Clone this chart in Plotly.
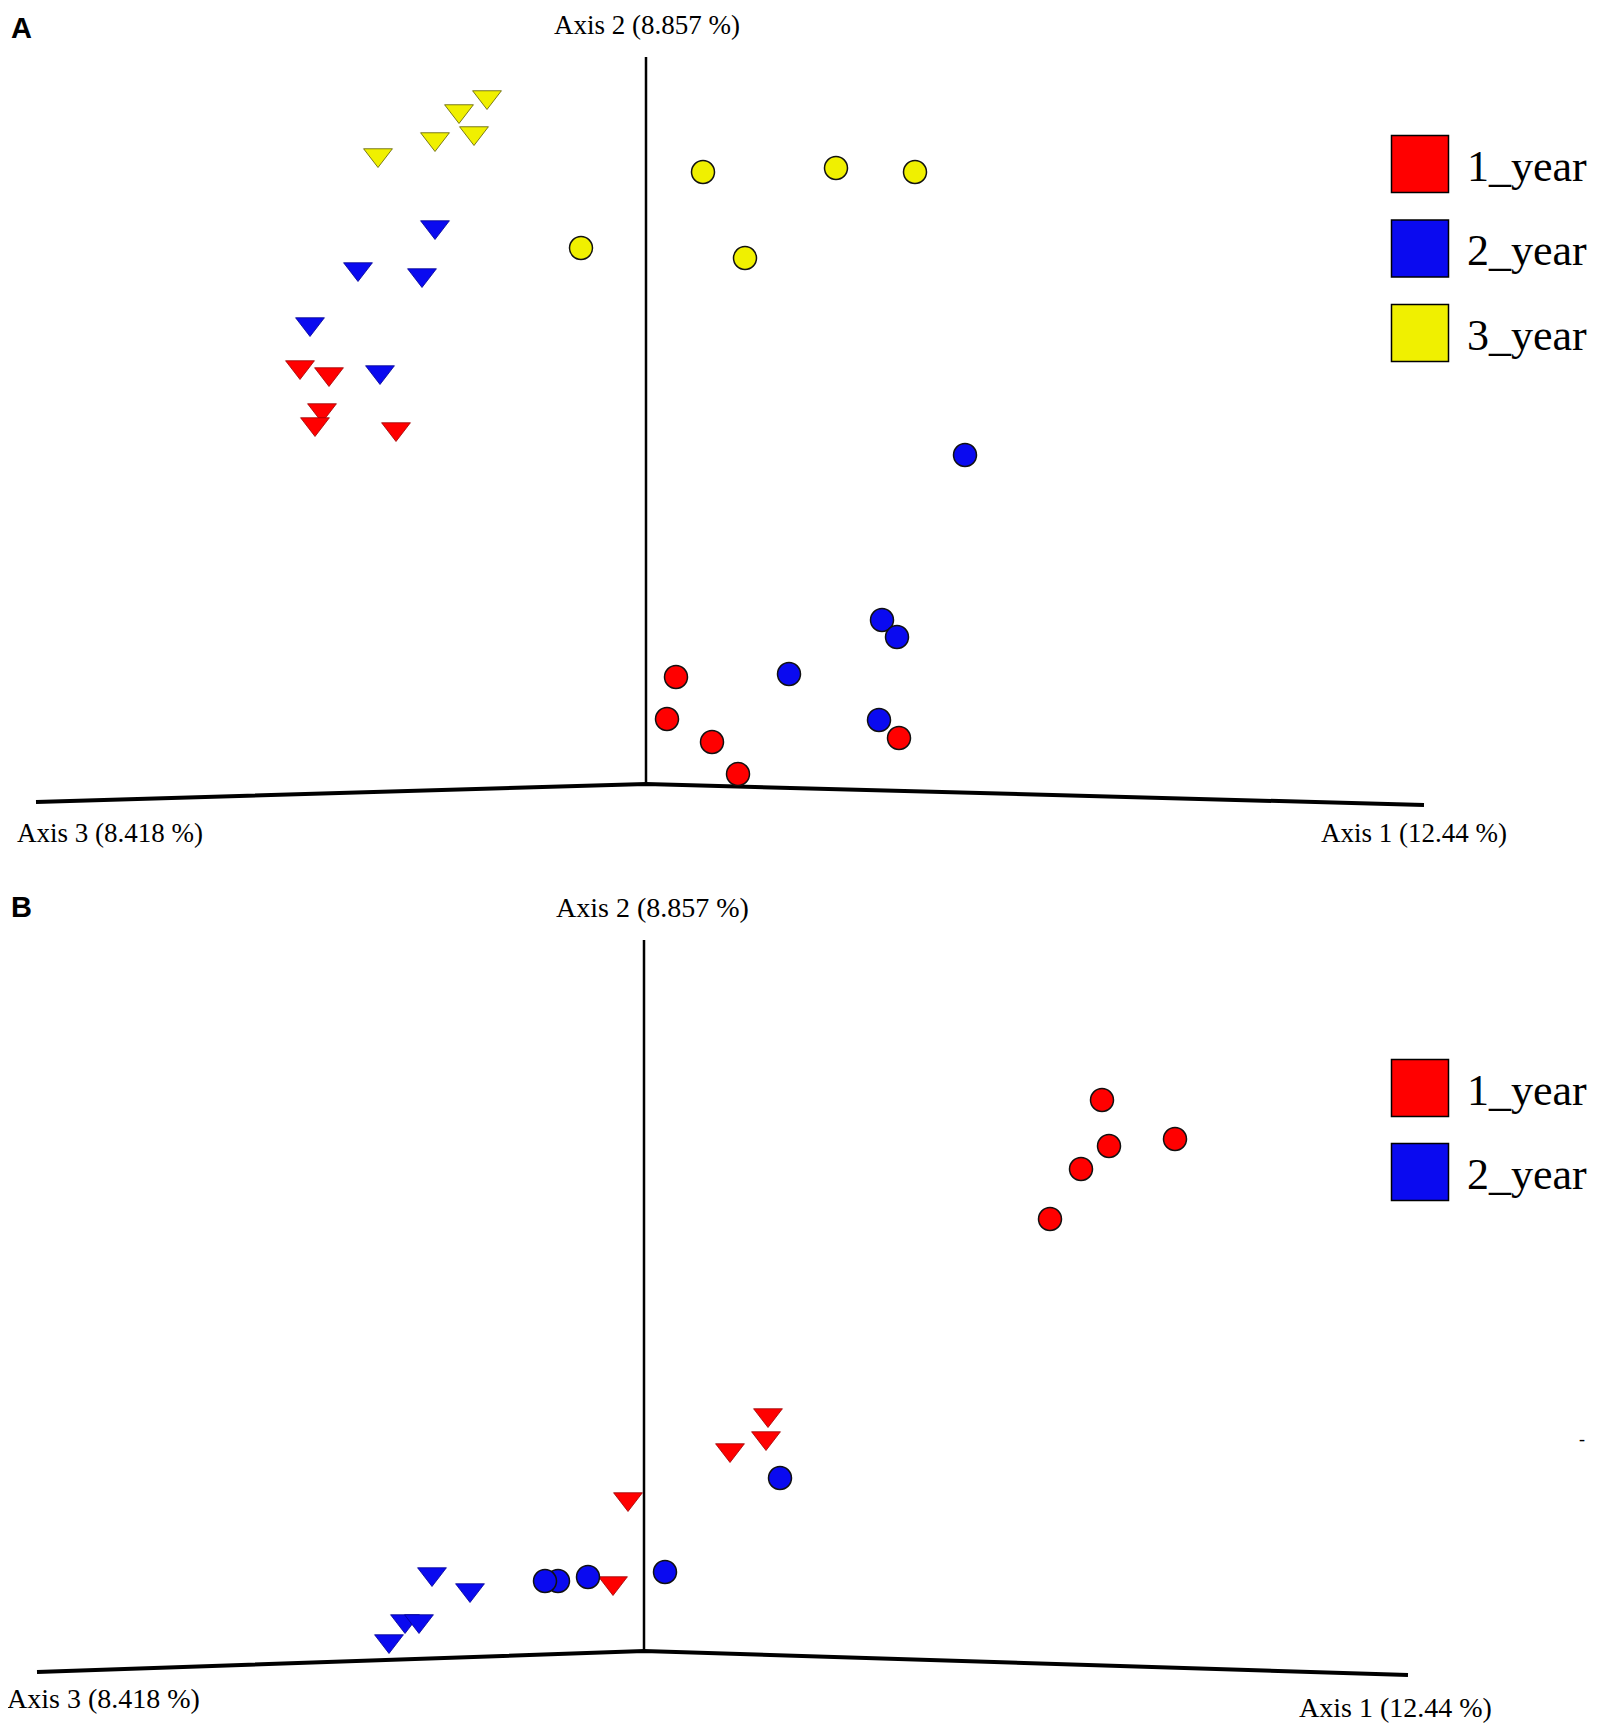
import plotly.graph_objects as go
from plotly.subplots import make_subplots

# projected PCoA positions (px units, y grows downward)
groups = ["1_year", "2_year", "3_year"]
colors = {"1_year": "#ff0000", "2_year": "#0a0af0", "3_year": "#f0f000"}
edge = {"1_year": "#9a0000", "2_year": "#000090", "3_year": "#5a5a00"}

# panel A
a_circ_x = {"1_year": [676, 667, 712, 738, 899],
            "2_year": [965, 882, 897, 789, 879],
            "3_year": [581, 703, 745, 836, 915]}
a_circ_y = {"1_year": [677, 719, 742, 774, 738],
            "2_year": [455, 620, 637, 674, 720],
            "3_year": [248, 172, 258, 168, 172]}
a_tri_x = {"1_year": [300, 329, 322, 315, 396],
           "2_year": [435, 358, 422, 310, 380],
           "3_year": [378, 435, 459, 487, 474]}
a_tri_y = {"1_year": [367, 374, 410, 424, 429],
           "2_year": [227, 269, 275, 324, 372],
           "3_year": [155, 139, 111, 97, 133]}

# panel B
b_circ_x = {"1_year": [1102, 1175, 1109, 1081, 1050],
            "2_year": [780, 665, 588, 558, 545]}
b_circ_y = {"1_year": [238, 277, 284, 307, 357],
            "2_year": [616, 710, 715, 719, 719]}
b_tri_x = {"1_year": [768, 766, 730, 628, 613],
           "2_year": [432, 470, 405, 419, 389]}
b_tri_y = {"1_year": [553, 576, 588, 637, 721],
           "2_year": [712, 728, 759, 759, 779]}

axis_names = ["Axis 1 (12.44 %)", "Axis 2 (8.857 %)", "Axis 3 (8.418 %)"]
# origin and axis end points: [origin, axis1 end, axis2 end, axis3 end]
a_frame_x = [646, 1424, 646, 36]
a_frame_y = [784, 805, 57, 802]
b_frame_x = [644, 1408, 644, 37]
b_frame_y = [789, 813, 78, 810]

# the page body has an 8px margin, so the figure is 8px smaller and the ranges start at 8
fig = make_subplots(rows=2, cols=1, vertical_spacing=0)

SERIF = "Liberation Serif"


def add_panel(row, cx, cy, tx, ty, fx, fy, grps):
    # frame: vertical axis thinner than the two floor axes
    fig.add_trace(go.Scatter(x=[fx[0], fx[2]], y=[fy[0], fy[2]], mode="lines",
                             line=dict(color="black", width=2.5), hoverinfo="skip"), row=row, col=1)
    fig.add_trace(go.Scatter(x=[fx[3], fx[0], fx[1]], y=[fy[3], fy[0], fy[1]], mode="lines",
                             line=dict(color="black", width=4), hoverinfo="skip"), row=row, col=1)
    for g in grps:
        fig.add_trace(go.Scatter(x=tx[g], y=ty[g], mode="markers", name=g,
                                 marker=dict(symbol="triangle-down", size=25, color=colors[g],
                                             line=dict(color=edge[g], width=0.8))), row=row, col=1)
        fig.add_trace(go.Scatter(x=cx[g], y=cy[g], mode="markers", name=g,
                                 marker=dict(symbol="circle", size=23, color=colors[g],
                                             line=dict(color="#111111", width=1.5))), row=row, col=1)
    # legend boxes
    ly = [164 + 84.5 * i for i in range(len(grps))] if row == 1 else [226 + 84 * i for i in range(len(grps))]
    fig.add_trace(go.Scatter(x=[1420] * len(grps), y=ly, mode="markers",
                             marker=dict(symbol="square", size=57, color=[colors[g] for g in grps],
                                         line=dict(color="black", width=1.5))), row=row, col=1)
    xr = "x" if row == 1 else "x2"
    yr = "y" if row == 1 else "y2"
    for g, yy in zip(grps, ly):
        fig.add_annotation(x=1465, y=yy + 2, xref=xr, yref=yr, text=g, showarrow=False,
                           xanchor="left", yanchor="middle",
                           font=dict(family=SERIF, size=44, color="black"))
    return xr, yr


xr, yr = add_panel(1, a_circ_x, a_circ_y, a_tri_x, a_tri_y, a_frame_x, a_frame_y, groups)
fs = 27
fig.add_annotation(x=647, y=25, xref=xr, yref=yr, text=axis_names[1], showarrow=False,
                   font=dict(family=SERIF, size=fs, color="black"))
fig.add_annotation(x=110, y=833, xref=xr, yref=yr, text=axis_names[2], showarrow=False,
                   font=dict(family=SERIF, size=fs, color="black"))
fig.add_annotation(x=1414, y=833, xref=xr, yref=yr, text=axis_names[0], showarrow=False,
                   font=dict(family=SERIF, size=fs, color="black"))
fig.add_annotation(x=9, y=28, xref=xr, yref=yr, text="<b>A</b>", showarrow=False, xanchor="left",
                   font=dict(family="Liberation Sans", size=29, color="black"))

xr, yr = add_panel(2, b_circ_x, b_circ_y, b_tri_x, b_tri_y, b_frame_x, b_frame_y, groups[:2])
fs = 28
fig.add_annotation(x=652, y=45, xref=xr, yref=yr, text=axis_names[1], showarrow=False,
                   font=dict(family=SERIF, size=fs, color="black"))
fig.add_annotation(x=103, y=836, xref=xr, yref=yr, text=axis_names[2], showarrow=False,
                   font=dict(family=SERIF, size=fs, color="black"))
fig.add_annotation(x=1395, y=845, xref=xr, yref=yr, text=axis_names[0], showarrow=False,
                   font=dict(family=SERIF, size=fs, color="black"))
fig.add_annotation(x=9, y=45, xref=xr, yref=yr, text="<b>B</b>", showarrow=False, xanchor="left",
                   font=dict(family="Liberation Sans", size=29, color="black"))
fig.add_annotation(x=1582, y=577, xref=xr, yref=yr, text="-", showarrow=False,
                   font=dict(family=SERIF, size=18, color="black"))

fig.update_xaxes(range=[8, 1600], visible=False, fixedrange=True)
fig.update_yaxes(range=[866, 8], visible=False, fixedrange=True, row=1, col=1)
fig.update_yaxes(range=[862, 4], visible=False, fixedrange=True, row=2, col=1)

fig.update_layout(
    width=1592, height=1716,
    margin=dict(l=0, r=0, t=0, b=0),
    showlegend=False,
    plot_bgcolor="white", paper_bgcolor="white",
)

fig.write_html("out.html")
